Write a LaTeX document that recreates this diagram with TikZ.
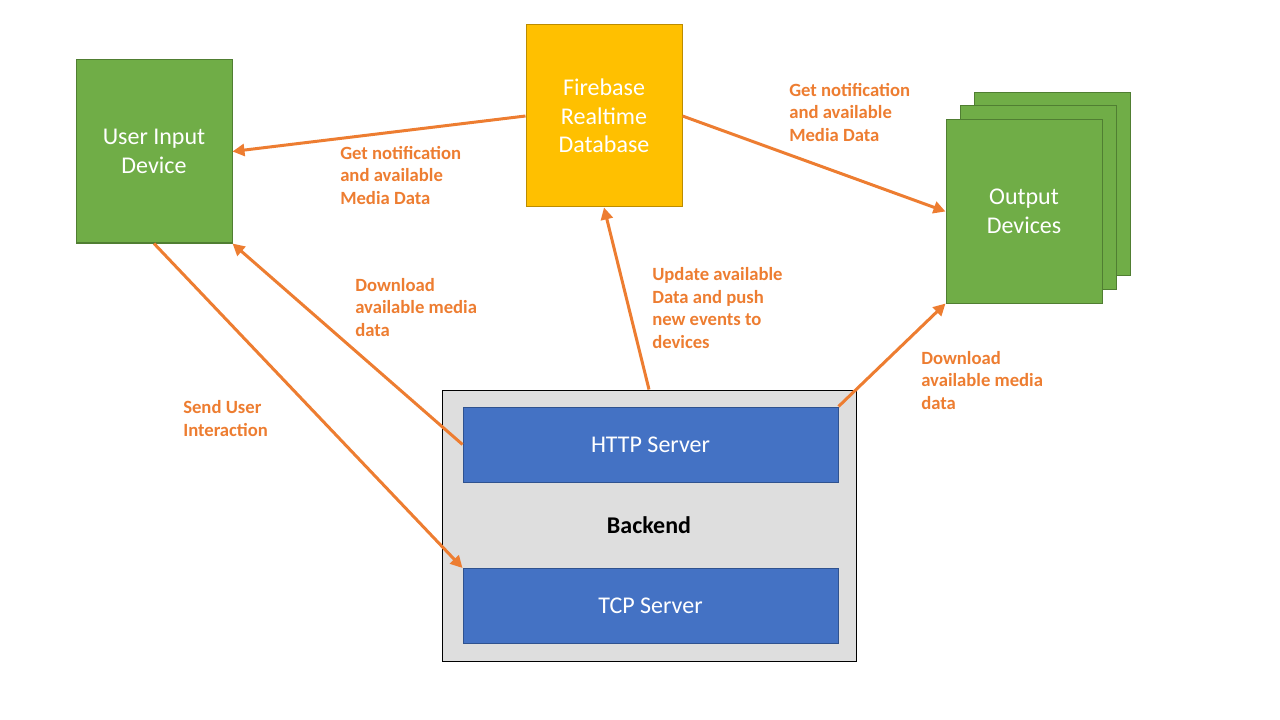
\documentclass[tikz,border=0pt]{standalone}
\usepackage{fontspec}
\setmainfont{Carlito}
\usetikzlibrary{arrows.meta}
\definecolor{grn}{HTML}{70AD47}
\definecolor{grnb}{HTML}{507E32}
\definecolor{gold}{HTML}{FFC000}
\definecolor{goldb}{HTML}{BC8C00}
\definecolor{blu}{HTML}{4472C4}
\definecolor{blub}{HTML}{2F528F}
\definecolor{org}{HTML}{ED7D31}
\definecolor{backg}{HTML}{DEDEDE}
\tikzset{
  box/.style={draw, line width=0.75pt, inner sep=0pt, align=center, text=white,
    font=\fontsize{18pt}{21.4pt}\selectfont},
  greenbox/.style={box, fill=grn, draw=grnb, minimum width=117pt, minimum height=137.25pt},
  goldbox/.style={box, fill=gold, draw=goldb, minimum width=117pt, minimum height=136.5pt},
  serverbox/.style={box, fill=blu, draw=blub, minimum width=281.25pt, minimum height=56.25pt},
  backbox/.style={draw=black, line width=0.75pt, fill=backg, minimum width=310.5pt, minimum height=203.25pt, inner sep=0pt},
  lbl/.style={anchor=west, inner sep=0pt, align=left, text=org,
    font=\fontsize{14pt}{16.9pt}\selectfont\bfseries},
  conn/.style={draw=org, line width=2.25pt, -{Triangle[length=9pt,width=9pt]}}
}
\begin{document}
\begin{tikzpicture}[x=0.75pt,y=-0.75pt]
\useasboundingbox (0,0) rectangle (1280,720);
% nodes
\node[greenbox] (ui) at (154,151.5) {User Input\\Device};
\node[goldbox] (fb) at (604,116) {Firebase\\Realtime\\Database};
\node[greenbox] (out3) at (1052,184) {};
\node[greenbox] (out2) at (1038,197.5) {};
\node[greenbox] (out) at (1024,211.5) {Output\\Devices};
\node[backbox] (be) at (649,525.5) {};
\node[serverbox] (http) at (650.5,444.5) {HTTP Server};
\node[serverbox] (tcp) at (650.5,606) {TCP Server};
\node[font=\fontsize{18pt}{21.4pt}\selectfont\bfseries, inner sep=0pt] (belbl) at (649,525) {Backend};
% connectors
\draw[conn] (fb.west) -- (ui.east);
\draw[conn] (fb.east) -- (out.west);
\draw[conn] (be.north) -- (fb.south);
\draw[conn] (http.west) -- (ui.south east);
\draw[conn] (http.north east) -- (out.south west);
\draw[conn] (ui.south) -- (tcp.north west);
% labels
\node[lbl] (l1) at (340,175.5) {Get notification\\and available\\Media Data};
\node[lbl] (l2) at (789,112.5) {Get notification\\and available\\Media Data};
\node[lbl] (l3) at (355,307.5) {Download\\available media\\data};
\node[lbl] (l4) at (652,308) {Update available\\Data and push\\new events to\\devices};
\node[lbl] (l5) at (921,380.5) {Download\\available media\\data};
\node[lbl] (l6) at (183,418.5) {Send User\\Interaction};
\end{tikzpicture}
\end{document}
